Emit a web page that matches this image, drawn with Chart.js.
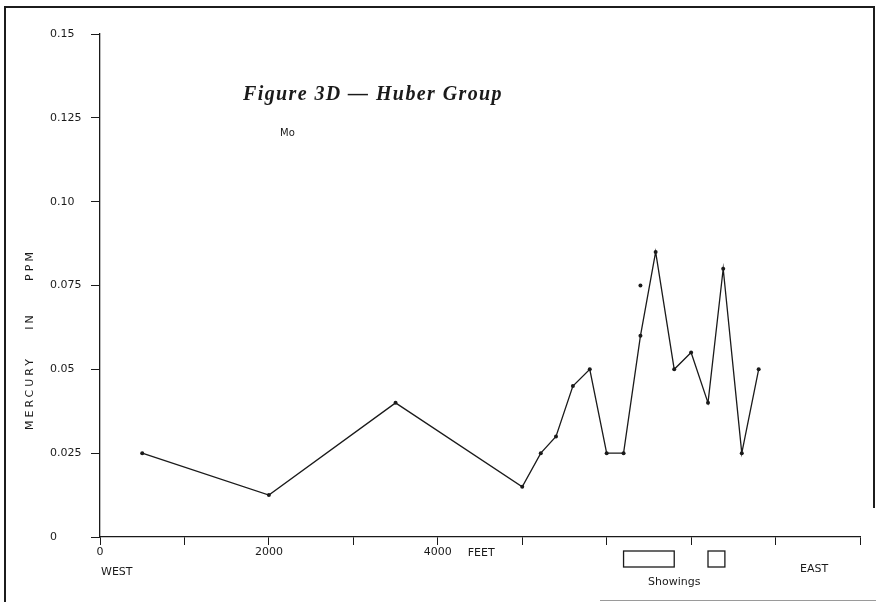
<!DOCTYPE html>
<html>
<head>
<meta charset="utf-8">
<script src="https://cdn.jsdelivr.net/npm/chart.js@4.4.1/dist/chart.umd.min.js"></script>
<style>
  html, body { margin: 0; padding: 0; background: #fff; }
  #wrap { position: relative; width: 876px; height: 602px; overflow: hidden; }
  #c { position: absolute; left: 0; top: 0; }
  .rule { position: absolute; background: #1c1c1c; }
</style>
</head>
<body>
<div id="wrap">
  <canvas id="c" width="876" height="602"></canvas>
  <div class="rule" style="left:4px;top:6px;width:2px;height:596px"></div>
  <div class="rule" style="left:4px;top:6px;width:871px;height:2px"></div>
  <div class="rule" style="left:873px;top:6px;width:2px;height:502px"></div>
  <div class="rule" style="left:600px;top:600px;width:276px;height:1px;background:#9a9a9a"></div>
</div>
<script>
// Traverse samples: distance along the line (feet, west to east) and mercury (ppm)
const distanceFt = [500, 2000, 3500, 5000, 5220, 5400, 5600, 5800, 6000, 6200, 6400, 6580, 6800, 7000, 7200, 7380, 7600, 7800];
const mercuryPpm = [0.025, 0.0125, 0.04, 0.015, 0.025, 0.03, 0.045, 0.05, 0.025, 0.025, 0.06, 0.085, 0.05, 0.055, 0.04, 0.08, 0.025, 0.05];

// Sample plotted off the traverse line
const extraFt = [6400];
const extraPpm = [0.075];

// Mineral showings along the traverse (feet)
const showingStartFt = [6200, 7200];
const showingEndFt = [6800, 7400];

// Axis tick labels
const yTickValues = [0, 0.025, 0.05, 0.075, 0.10, 0.125, 0.15];
const yTickLabels = ['0', '0.025', '0.05', '0.075', '0.10', '0.125', '0.15'];
const xTickValues = [0, 2000, 4000];
const xTickLabels = ['0', '2000', '4000'];

const INK = '#1a1a1a';
const SANS = '"DejaVu Sans", sans-serif';

const lineData = distanceFt.map((x, i) => ({ x, y: mercuryPpm[i] }));
const extraData = extraFt.map((x, i) => ({ x, y: extraPpm[i] }));

function labelFor(values, labels, v) {
  for (let i = 0; i < values.length; i++) {
    if (Math.abs(values[i] - v) < 1e-9) return labels[i];
  }
  return '';
}

const annotations = {
  id: 'annotations',
  afterDraw(chart) {
    const ctx = chart.ctx;
    const xs = chart.scales.x;
    ctx.save();
    ctx.fillStyle = INK;
    ctx.strokeStyle = INK;

    // Title
    ctx.font = 'bold italic 20px "Liberation Serif", serif';
    ctx.letterSpacing = '1.4px';
    ctx.textAlign = 'center';
    ctx.textBaseline = 'middle';
    ctx.fillText('Figure 3D \u2014 Huber Group', 373, 95);
    ctx.letterSpacing = '0px';

    // Element label
    ctx.font = '10px ' + SANS;
    ctx.textAlign = 'left';
    ctx.fillText('Mo', 280, 133);

    // Vertical axis title
    ctx.save();
    ctx.translate(30, 0);
    ctx.rotate(-Math.PI / 2);
    ctx.font = '11px ' + SANS;
    ctx.letterSpacing = '3px';
    ctx.textAlign = 'center';
    ctx.fillText('MERCURY', -393, 0);
    ctx.fillText('IN', -321, 0);
    ctx.fillText('PPM', -265, 0);
    ctx.restore();

    // Horizontal axis notes
    ctx.font = '11px ' + SANS;
    ctx.textAlign = 'left';
    ctx.fillText('FEET', xs.getPixelForValue(4000) + 30, 553);
    ctx.fillText('WEST', 101, 572);
    ctx.fillText('EAST', 800, 569);
    ctx.fillText('Showings', 648, 582);

    // Showing boxes below the axis
    ctx.lineWidth = 1.3;
    for (let i = 0; i < showingStartFt.length; i++) {
      const x0 = xs.getPixelForValue(showingStartFt[i]);
      const x1 = xs.getPixelForValue(showingEndFt[i]);
      ctx.strokeRect(x0, 551, x1 - x0, 16);
    }
    ctx.restore();
  }
};

new Chart(document.getElementById('c'), {
  type: 'scatter',
  data: {
    datasets: [
      {
        data: lineData,
        showLine: true,
        borderColor: INK,
        borderWidth: 1.3,
        pointRadius: 2,
        pointBackgroundColor: INK,
        pointBorderWidth: 0,
        tension: 0
      },
      {
        data: extraData,
        showLine: false,
        pointRadius: 2,
        pointBackgroundColor: INK,
        pointBorderWidth: 0
      }
    ]
  },
  options: {
    responsive: false,
    animation: false,
    devicePixelRatio: 1,
    layout: { padding: { left: 50, right: 16, top: 34, bottom: 0 } },
    plugins: { legend: { display: false }, tooltip: { enabled: false } },
    scales: {
      x: {
        type: 'linear',
        min: 0,
        max: 9000,
        afterFit(scale) { scale.height = 65; },
        afterBuildTicks(scale) {
          const t = [];
          for (let v = 0; v <= 9000; v += 1000) t.push({ value: v });
          scale.ticks = t;
        },
        ticks: {
          autoSkip: false,
          maxRotation: 0,
          padding: 1,
          color: INK,
          font: { family: SANS, size: 11 },
          callback: (v) => labelFor(xTickValues, xTickLabels, v)
        },
        grid: { drawOnChartArea: false, drawTicks: true, tickLength: 8, color: INK, lineWidth: 1 },
        border: { display: true, color: INK, width: 1.3 }
      },
      y: {
        type: 'linear',
        min: 0,
        max: 0.15,
        afterFit(scale) { scale.width = 50; },
        afterBuildTicks(scale) {
          scale.ticks = yTickValues.map(v => ({ value: v }));
        },
        ticks: {
          crossAlign: 'far',
          color: INK,
          font: { family: SANS, size: 11 },
          callback: (v) => labelFor(yTickValues, yTickLabels, v)
        },
        grid: { drawOnChartArea: false, drawTicks: true, tickLength: 9, color: INK, lineWidth: 1 },
        border: { display: true, color: INK, width: 1.3 }
      }
    }
  },
  plugins: [annotations]
});
</script>
</body>
</html>
